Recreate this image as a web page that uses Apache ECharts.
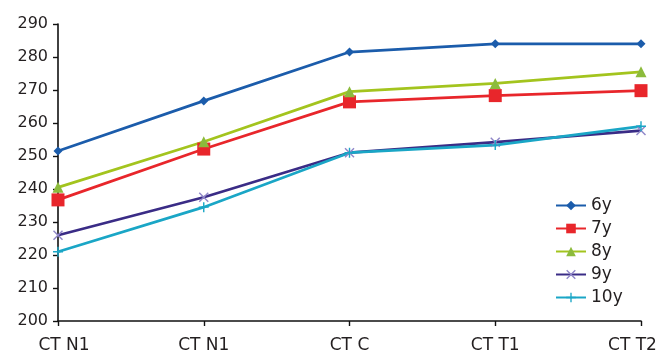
<!DOCTYPE html>
<html>
<head>
<meta charset="utf-8">
<script src="https://cdn.jsdelivr.net/npm/echarts@6/dist/echarts.min.js"></script>
<style>
html,body{margin:0;padding:0;background:#fff;}
#chart{width:669px;height:355px;}
</style>
</head>
<body>
<div id="chart"></div>
<script>
// Stages along the x axis
const categories = ['CT N1', 'CT N1 ', 'CT C', 'CT T1', 'CT T2'];
const yTicks = { min: 200, max: 290, step: 10 };

// Values per age group
const s6y  = [251.5, 266.7, 281.5, 284.0, 284.0];
const s7y  = [236.7, 252.1, 266.4, 268.3, 269.8];
const s8y  = [240.5, 254.3, 269.5, 272.0, 275.5];
const s9y  = [226.0, 237.5, 251.0, 254.2, 257.7];
const s10y = [221.0, 234.5, 251.0, 253.3, 259.0];

const crossPath = 'path://M0,1L1,0L5,4L9,0L10,1L6,5L10,9L9,10L5,6L1,10L0,9L4,5Z';
const starPath = 'path://M4.3,0H5.7V4.3H10V5.7H5.7V10H4.3V5.7H0V4.3H4.3Z';

function lineSeries(name, data, color, symbol, size, markerColor) {
  return {
    name: name,
    type: 'line',
    data: data,
    symbol: symbol,
    symbolSize: size,
    showAllSymbol: true,
    lineStyle: { color: color, width: 2.7 },
    itemStyle: { color: markerColor || color, borderWidth: 0 },
    emphasis: { disabled: true },
    animation: false
  };
}

const font = 'DejaVu Sans, Arial, sans-serif';
const lastIndex = categories.length - 1;
const chart = echarts.init(document.getElementById('chart'));
chart.setOption({
  backgroundColor: '#ffffff',
  textStyle: { fontFamily: font },
  grid: { left: 58, right: 28, top: 24, bottom: 34, containLabel: false },
  legend: {
    orient: 'vertical',
    left: 555,
    top: 197,
    padding: 0,
    itemGap: 6,
    itemWidth: 30,
    itemHeight: 12,
    textStyle: { fontSize: 17, fontFamily: font, color: '#231f20' },
    data: ['6y', '7y', '8y', '9y', '10y']
  },
  xAxis: {
    type: 'category',
    data: categories,
    boundaryGap: false,
    axisLine: { lineStyle: { color: '#111', width: 1.6 } },
    axisTick: { show: true, length: 5, alignWithLabel: true, lineStyle: { color: '#111', width: 1.4 } },
    axisLabel: {
      fontSize: 17, fontFamily: font, color: '#231f20', margin: 16, interval: 0,
      // end labels are nudged inward so they stay inside the canvas
      formatter: (v, i) => i === 0 ? '{first|' + v.trim() + '}'
        : i === lastIndex ? '{last|' + v.trim() + '}' : v.trim(),
      rich: {
        first: { fontSize: 17, fontFamily: font, color: '#231f20', padding: [0, 0, 0, 12] },
        last: { fontSize: 17, fontFamily: font, color: '#231f20', padding: [0, 17, 0, 0] }
      }
    },
    splitLine: { show: false }
  },
  yAxis: {
    type: 'value',
    min: yTicks.min,
    max: yTicks.max,
    interval: yTicks.step,
    axisLine: { show: true, lineStyle: { color: '#111', width: 1.6 } },
    axisTick: { show: true, length: 5, lineStyle: { color: '#111', width: 1.4 } },
    axisLabel: { fontSize: 16, fontFamily: font, color: '#231f20', margin: 10 },
    splitLine: { show: false }
  },
  series: [
    lineSeries('6y', s6y, '#1b5cab', 'diamond', 9),
    lineSeries('7y', s7y, '#e8262b', 'rect', 13),
    lineSeries('8y', s8y, '#a3c41e', 'triangle', 11, '#8cbb3c'),
    lineSeries('9y', s9y, '#3a2c86', crossPath, 10, '#8f86c8'),
    lineSeries('10y', s10y, '#1aa6c6', starPath, 10)
  ]
});
</script>
</body>
</html>
